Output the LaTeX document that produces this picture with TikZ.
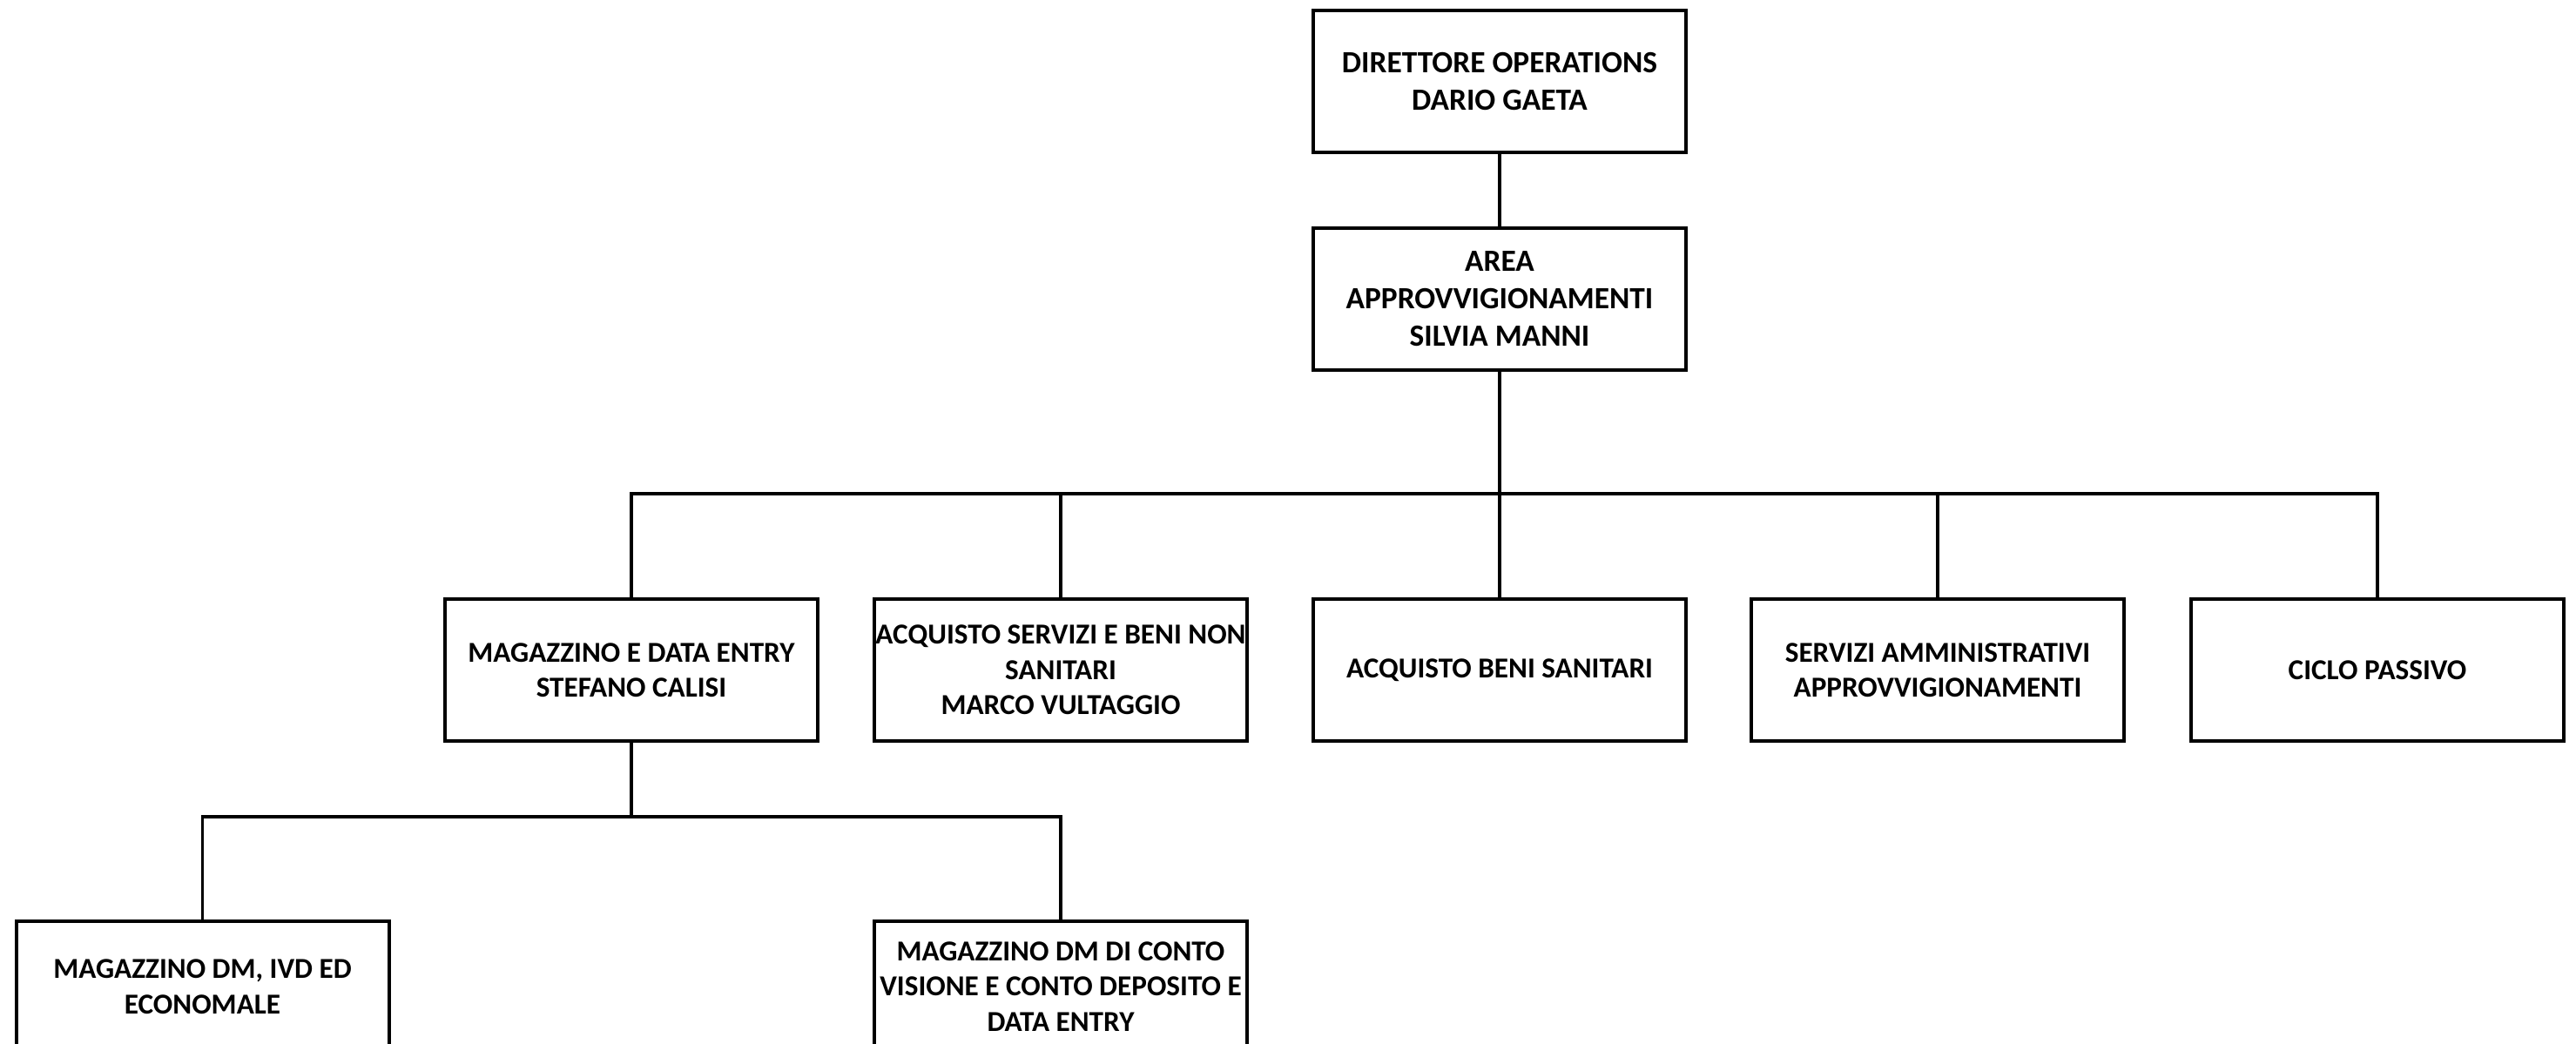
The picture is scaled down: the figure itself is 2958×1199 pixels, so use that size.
\documentclass[tikz,border=0pt]{standalone}
\usepackage{fontspec}
\setmainfont{Carlito}[BoldFont={Carlito Bold}]
\begin{document}
\begin{tikzpicture}[x=1pt,y=-1pt,
  box/.style={draw=black, line width=4pt, rectangle, minimum width=428pt, minimum height=163pt,
    inner sep=0pt, align=center, font=\bfseries\fontsize{35.4}{43}\selectfont},
  rowbox/.style={box, font=\bfseries\fontsize{33.2}{40.5}\selectfont},
  link/.style={draw=black, line width=3.5pt}]
\useasboundingbox (0,0) rectangle (2958,1199);
\clip (0,0) rectangle (2958,1199);
\fill[white] (0,0) rectangle (2958,1199);
\node[box] (dir) at (1722,93.5) {DIRETTORE OPERATIONS\\DARIO GAETA};
\node[box] (area) at (1722,343) {AREA\\APPROVVIGIONAMENTI\\SILVIA MANNI};
\node[rowbox] (b1) at (725,769.5) {MAGAZZINO E DATA ENTRY\\STEFANO CALISI};
\node[rowbox] (b2) at (1218,769.5) {ACQUISTO SERVIZI E BENI NON\\SANITARI\\MARCO VULTAGGIO};
\node[rowbox] (b3) at (1722,769.5) {ACQUISTO BENI SANITARI};
\node[rowbox] (b4) at (2225,769.5) {SERVIZI AMMINISTRATIVI\\APPROVVIGIONAMENTI};
\node[rowbox] (b5) at (2730,769.5) {CICLO PASSIVO};
\node[rowbox, minimum height=150pt] (c1) at (232.5,1133) {MAGAZZINO DM, IVD ED\\ECONOMALE};
\node[rowbox, minimum height=150pt] (c2) at (1218,1133) {MAGAZZINO DM DI CONTO\\VISIONE E CONTO DEPOSITO E\\DATA ENTRY};
\coordinate (bus) at (0,567);
\coordinate (sub) at (0,938);
\draw[link] (dir.south) -- (area.north);
\draw[link] (area.south) -- (area.south |- bus);
\draw[link] (b1.north) -- (b1.north |- bus) -- (b5.north |- bus) -- (b5.north);
\draw[link] (b2.north) -- (b2.north |- bus);
\draw[link] (b3.north) -- (b3.north |- bus);
\draw[link] (b4.north) -- (b4.north |- bus);
\draw[link] (b1.south) -- (b1.south |- sub);
\draw[link] (c1.north) -- (c1.north |- sub) -- (c2.north |- sub) -- (c2.north);
\end{tikzpicture}
\end{document}
